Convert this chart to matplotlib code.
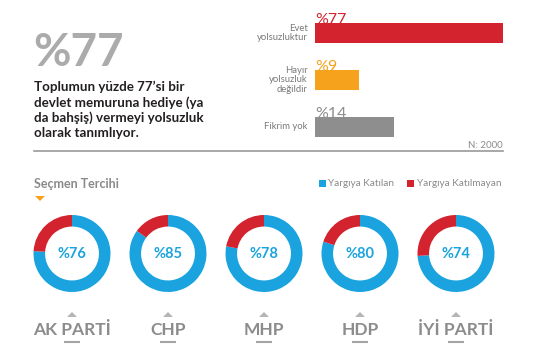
import matplotlib
matplotlib.use("Agg")
import matplotlib.pyplot as plt
from matplotlib.patches import Polygon, Rectangle

plt.rcParams['font.family'] = ['Lato', 'DejaVu Sans']

# ---- data ----
headline = "%77"
description = "Toplumun yüzde 77’si bir\ndevlet memuruna hediye (ya\nda bahşiş) vermeyi yolsuzluk\nolarak tanımlıyor."
bar_categories = ["Evet\nyolsuzluktur", "Hayır\nyolsuzluk\ndeğildir", "Fikrim yok"]
bar_values = [77, 9, 14]            # labelled percentages
bar_lengths = [77, 18, 32.5]        # drawn bar lengths as seen in the infographic
bar_colors = ["#d2232f", "#f6a21d", "#8e8e8e"]
sample_note = "N: 2000"

section_title = "Seçmen Tercihi"
legend_labels = ["Yargıya Katılan", "Yargıya Katılmayan"]
parties = ["AK PARTİ", "CHP", "MHP", "HDP", "İYİ PARTİ"]
agree = [76, 85, 78, 80, 74]
BLUE = "#1aa3df"
RED = "#d2232f"
GRAY = "#8a8a8a"

W, H = 543, 350
fig = plt.figure(figsize=(W / 100, H / 100), dpi=100)
fig.patch.set_facecolor("white")

bg = fig.add_axes([0, 0, 1, 1])
bg.set_xlim(0, W)
bg.set_ylim(H, 0)
bg.axis("off")

def px_axes(x0, y0, w, h):
    return fig.add_axes([x0 / W, 1 - (y0 + h) / H, w / W, h / H])

# headline
bg.text(33, 53, headline, fontsize=33, fontweight="bold", color="#ababab",
        ha="left", va="center")
bg.text(34, 81, description, fontsize=9.6, fontweight="bold", color="#231f20",
        ha="left", va="top", linespacing=1.27)

# separator line
bg.plot([34, 503], [151, 151], color="#9a9a9a", lw=1.2)

# bar chart
bx = px_axes(315, 9.5, 188, 141)
bx.barh(range(len(bar_lengths)), bar_lengths, height=20 / 47, color=bar_colors, zorder=3)
bx.set_xlim(0, bar_lengths[0])
bx.set_ylim(len(bar_lengths) - 0.5, -0.5)
bx.axis("off")
for i, (v, c) in enumerate(zip(bar_values, bar_colors)):
    bx.text(0, i - 0.13, f"%{v}", fontsize=11.5, color=c, ha="left", va="bottom", zorder=2)
    bx.text(-3, i, bar_categories[i], fontsize=6.8, color="#7a7a7a",
            ha="right", va="center", linespacing=1.05)
bg.text(503, 145, sample_note, fontsize=7, color="#8a8a8a", ha="right", va="center")

# section title and marker
bg.text(34, 184, section_title, fontsize=9, fontweight="bold", color="#8a8a8a",
        ha="left", va="center")
bg.add_patch(Polygon([[35, 196], [45, 196], [40, 201]], closed=True,
                     color="#f6a21d", lw=0))

# legend
bg.add_patch(Rectangle((319, 180), 7, 7, color=BLUE, lw=0))
bg.text(328, 183.5, legend_labels[0], fontsize=7.2, color="#8a8a8a", ha="left", va="center")
bg.add_patch(Rectangle((407, 180), 7, 7, color=RED, lw=0))
bg.text(417, 183.5, legend_labels[1], fontsize=7.2, color="#8a8a8a", ha="left", va="center")

# donuts
for i, (p, v) in enumerate(zip(parties, agree)):
    cx, cy, r = 72 + 96 * i, 253.5, 38.5
    ax = px_axes(cx - r, cy - r, 2 * r, 2 * r)
    ax.pie([v, 100 - v], colors=[BLUE, RED], startangle=90, counterclock=False,
           radius=1, wedgeprops=dict(width=0.3, linewidth=0))
    ax.set_xlim(-1, 1)
    ax.set_ylim(-1, 1)
    ax.set_aspect("equal")
    ax.axis("off")
    ax.text(0, 0, f"%{v}", fontsize=10.5, fontweight="bold", color=BLUE,
            ha="center", va="center")
    # party label with small marks
    bg.add_patch(Polygon([[cx - 5, 317], [cx + 5, 317], [cx, 312]], closed=True,
                         color="#b5b5b5", lw=0))
    bg.text(cx, 330, p, fontsize=12.5, fontweight="bold", color="#8c8c8c",
            ha="center", va="center")
    bg.plot([cx - 7, cx + 7], [342, 342], color="#a5a5a5", lw=1.5)

fig.savefig("out.png", dpi=100, facecolor="white")
